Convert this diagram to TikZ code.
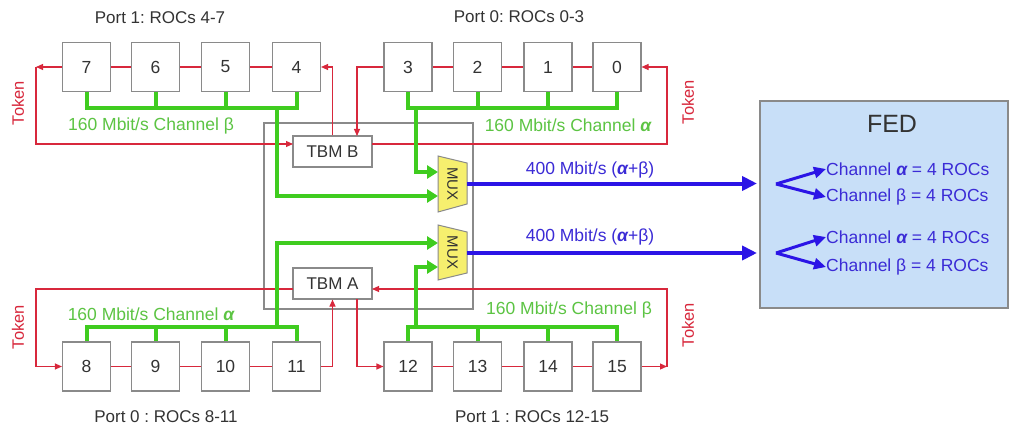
\documentclass[tikz,border=0pt]{standalone}
\usepackage{fontspec}
\setmainfont{Liberation Sans}
\usetikzlibrary{arrows.meta}
\definecolor{tokred}{HTML}{D8283C}
\definecolor{grn}{HTML}{3FCC1F}
\definecolor{grntxt}{HTML}{5CC443}
\definecolor{blu}{HTML}{2B14E6}
\definecolor{blutxt}{HTML}{3B2BD6}
\definecolor{fedfill}{HTML}{C8DFF8}
\definecolor{muxfill}{HTML}{F6EF6E}
\definecolor{boxgray}{HTML}{8A8A8A}
\definecolor{txtgray}{HTML}{333333}
\newcommand{\balpha}{{\bfseries\itshape α}}
\frenchspacing
\begin{document}
\begin{tikzpicture}[x=1pt,y=-1pt,
  roc/.style={draw=boxgray, line width=1.1pt, minimum width=48pt, minimum height=49pt, inner sep=0pt, font=\fontsize{17.5}{20}\selectfont, text=txtgray},
  tbm/.style={draw=boxgray, line width=1.1pt, minimum width=79pt, minimum height=31pt, inner sep=0pt, font=\fontsize{17}{20}\selectfont, text=txtgray},
  lbl/.style={font=\fontsize{17}{20}\selectfont, text=txtgray, inner sep=0pt},
  grnlbl/.style={font=\fontsize{17.5}{20}\selectfont, text=grntxt, inner sep=0pt},
  blulbl/.style={font=\fontsize{17.5}{20}\selectfont, text=blutxt, inner sep=0pt},
  toklbl/.style={font=\fontsize{16.5}{20}\selectfont, text=tokred, inner sep=0pt, rotate=90},
  tok/.style={draw=tokred, line width=1.1pt},
  tokarr/.style={tok, -{Triangle[length=7pt,width=6pt]}},
  bus/.style={draw=grn, line width=4pt},
  busarr/.style={bus, -{Triangle[length=11pt,width=13pt]}},
  bluarr/.style={draw=blu, line width=4pt, -{Triangle[length=15pt,width=14pt]}},
  fedarr/.style={draw=blu, line width=3pt, -{Triangle[length=12pt,width=11pt]}},
  muxshape/.style={draw=boxgray, line width=1pt, fill=muxfill},
  muxlbl/.style={font=\fontsize{15}{16}\selectfont, text=txtgray, rotate=-90, inner sep=0pt}
]
\useasboundingbox (0,0) rectangle (1012,433);
\fill[white] (0,0) rectangle (1012,433);

% FED box
\node[draw=boxgray, line width=1.1pt, fill=fedfill, minimum width=248pt, minimum height=207pt, inner sep=0pt] (fed) at (884,204.5) {};
\node[font=\fontsize{25}{28}\selectfont, text=txtgray, inner sep=0pt] (fedlbl) at (892,124) {FED};

% module box
\node[draw=boxgray, line width=1.1pt, minimum width=209pt, minimum height=186pt, inner sep=0pt] (module) at (368.5,216) {};

% ROC boxes top
\node[roc] (r7) at (86.5,67) {7};
\node[roc] (r6) at (155.5,67) {6};
\node[roc] (r5) at (225.5,67) {5};
\node[roc] (r4) at (296.5,67) {4};
\node[roc] (r3) at (408,67) {3};
\node[roc] (r2) at (477.5,67) {2};
\node[roc] (r1) at (548,67) {1};
\node[roc] (r0) at (617,67) {0};
% ROC boxes bottom
\node[roc] (r8) at (86.5,366.5) {8};
\node[roc] (r9) at (155.5,366.5) {9};
\node[roc] (r10) at (225.5,366.5) {10};
\node[roc] (r11) at (296.5,366.5) {11};
\node[roc] (r12) at (408,366.5) {12};
\node[roc] (r13) at (477.5,366.5) {13};
\node[roc] (r14) at (548,366.5) {14};
\node[roc] (r15) at (617,366.5) {15};

% TBMs
\node[tbm, fill=white] (tbmB) at (332.5,151.5) {TBM B};
\node[tbm, fill=white] (tbmA) at (332.5,283.5) {TBM A};

% Port labels
\node[lbl] (p1top) at (160,18) {Port 1: ROCs 4-7};
\node[lbl] (p0top) at (519,17) {Port 0: ROCs 0-3};
\node[lbl] (p0bot) at (166,417) {Port 0 : ROCs 8-11};
\node[lbl] (p1bot) at (532,417) {Port 1 : ROCs 12-15};

% Token labels
\node[toklbl] (tk1) at (18,103) {Token};
\node[toklbl] (tk2) at (688,102) {Token};
\node[toklbl] (tk3) at (18,327) {Token};
\node[toklbl] (tk4) at (688,325) {Token};

% coordinates
\coordinate (tl) at (36,67);
\coordinate (bIn) at (293,144);
\coordinate (bIn3) at (357,136);
\coordinate (bOutR) at (372,144);
\coordinate (tr) at (667,144);
\coordinate (aOutL) at (293,289);
\coordinate (bl) at (36,289);
\coordinate (aOut12) at (357,299);
\coordinate (br) at (667,366.5);
\coordinate (aIn) at (372,289);

% red token chains
\draw[tok] (r7.east) -- (r6.west);
\draw[tok] (r6.east) -- (r5.west);
\draw[tok] (r5.east) -- (r4.west);
\draw[tok] (r3.east) -- (r2.west);
\draw[tok] (r2.east) -- (r1.west);
\draw[tok] (r1.east) -- (r0.west);
\draw[tok] (r8.east) -- (r9.west);
\draw[tok] (r9.east) -- (r10.west);
\draw[tok] (r10.east) -- (r11.west);
\draw[tok] (r12.east) -- (r13.west);
\draw[tok] (r13.east) -- (r14.west);
\draw[tok] (r14.east) -- (r15.west);

\draw[tokarr] (r7.west) -- (tl);
\draw[tokarr] (tl) |- (bIn);
\draw[tokarr] (tbmB.north) |- (r4.east);
\draw[tokarr] (r3.west) -| (bIn3);
\draw[tokarr] (bOutR) -- (tr) |- (r0.east);

\draw[tokarr] (aOutL) -- (bl) |- (r8.west);
\draw[tokarr] (r11.east) -| (tbmA.south);
\draw[tokarr] (aOut12) |- (r12.west);
\draw[tokarr] (r15.east) -- (br);
\draw[tokarr] (br) |- (aIn);

% MUX shapes
\draw[muxshape] (438,156) -- (467,163) -- (467,204) -- (438,212) -- cycle;
\node[muxlbl] (muxT) at (452.5,184) {MUX};
\draw[muxshape] (438,225) -- (467,232) -- (467,273) -- (438,280) -- cycle;
\node[muxlbl] (muxB) at (452.5,252.5) {MUX};

\coordinate (mTin1) at (438,172);
\coordinate (mTin2) at (438,196);
\coordinate (mBin1) at (438,243);
\coordinate (mBin2) at (438,267);
\coordinate (gTL) at (277,107.5);
\coordinate (gTR) at (416,107.5);
\coordinate (gBL) at (277,328);
\coordinate (gBR) at (416,328);

% green buses
\draw[bus] (r7.south) -- ++(0,16) -| (r4.south);
\draw[bus] (r6.south) -- ++(0,16);
\draw[bus] (r5.south) -- ++(0,16);
\draw[bus] (r3.south) -- ++(0,16) -| (r0.south);
\draw[bus] (r2.south) -- ++(0,16);
\draw[bus] (r1.south) -- ++(0,16);
\draw[bus] (r8.north) -- ++(0,-14.5) -| (r11.north);
\draw[bus] (r9.north) -- ++(0,-14.5);
\draw[bus] (r10.north) -- ++(0,-14.5);
\draw[bus] (r12.north) -- ++(0,-14.5) -| (r15.north);
\draw[bus] (r13.north) -- ++(0,-14.5);
\draw[bus] (r14.north) -- ++(0,-14.5);

\draw[busarr] (gTL) |- (mTin2);
\draw[busarr] (gTR) |- (mTin1);
\draw[busarr] (gBL) |- (mBin1);
\draw[busarr] (gBR) |- (mBin2);

% green labels
\node[grnlbl] (gl1) at (151,126) {160 Mbit/s Channel β};
\node[grnlbl] (gl2) at (568,125) {160 Mbit/s Channel \balpha};
\node[grnlbl] (gl3) at (151,314) {160 Mbit/s Channel \balpha};
\node[grnlbl] (gl4) at (569,310) {160 Mbit/s Channel β};

% blue links
\coordinate (mTout) at (467,183.5);
\coordinate (mBout) at (467,253);
\coordinate (fedIn1) at (757,183.5);
\coordinate (fedIn2) at (757,253);
\draw[bluarr] (mTout) -- (fedIn1);
\draw[bluarr] (mBout) -- (fedIn2);
\node[blulbl] (bl1) at (590,170) {400 Mbit/s (\balpha+β)};
\node[blulbl] (bl2) at (590,237) {400 Mbit/s (\balpha+β)};

% FED channels
\node[blulbl, anchor=west] (ca1) at (826,169) {Channel \balpha{} = 4 ROCs};
\node[blulbl, anchor=west] (cb1) at (826,197) {Channel β = 4 ROCs};
\node[blulbl, anchor=west] (ca2) at (826,237) {Channel \balpha{} = 4 ROCs};
\node[blulbl, anchor=west] (cb2) at (826,267) {Channel β = 4 ROCs};
\coordinate (fk1) at (776,184);
\coordinate (fk2) at (776,253);
\draw[fedarr] (fk1) -- (ca1.west);
\draw[fedarr] (fk1) -- (cb1.west);
\draw[fedarr] (fk2) -- (ca2.west);
\draw[fedarr] (fk2) -- (cb2.west);
\end{tikzpicture}
\end{document}
